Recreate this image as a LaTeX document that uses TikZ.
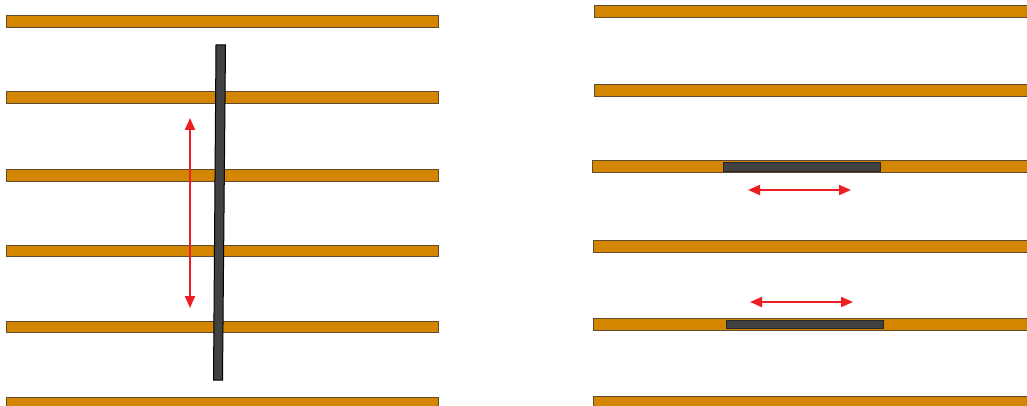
\documentclass[tikz,border=0pt]{standalone}
\usetikzlibrary{arrows.meta}
\definecolor{wood}{RGB}{213,134,0}
\definecolor{woodedge}{RGB}{95,75,45}
\definecolor{rod}{RGB}{66,66,66}
\definecolor{pull}{RGB}{236,30,36}

\begin{document}
\begin{tikzpicture}[x=1pt,y=-1pt,>={Triangle[length=12pt,width=10pt]}]
\useasboundingbox (0,0) rectangle (1027,406);
% left: rod across the boards
\foreach \y in {16,92,170,245,321,397}{\draw[woodedge,fill=wood,line width=1] (6,\y) rectangle (438,\y+11.5);}
\draw[black,fill=rod,line width=1] (216,45)--(225.5,45)--(222.5,380)--(213.5,380)--cycle;
\draw[<->,pull,line width=2] (190,118)--(190,308);
% right: rods lying in the boards
\foreach \y/\x in {6/594,85/594,161/592,240/593,318/593,396/593}{\draw[woodedge,fill=wood,line width=1] (\x,\y) rectangle (1030,\y+12);}
\draw[black!85,fill=rod,line width=1] (723.5,163) rectangle (880.5,171.5); \draw[black!85,fill=rod,line width=1] (726.5,320) rectangle (883,328.5);
\draw[<->,pull,line width=2] (748,190)--(851,190); \draw[<->,pull,line width=2] (750,302)--(853,302);
\end{tikzpicture}
\end{document}
